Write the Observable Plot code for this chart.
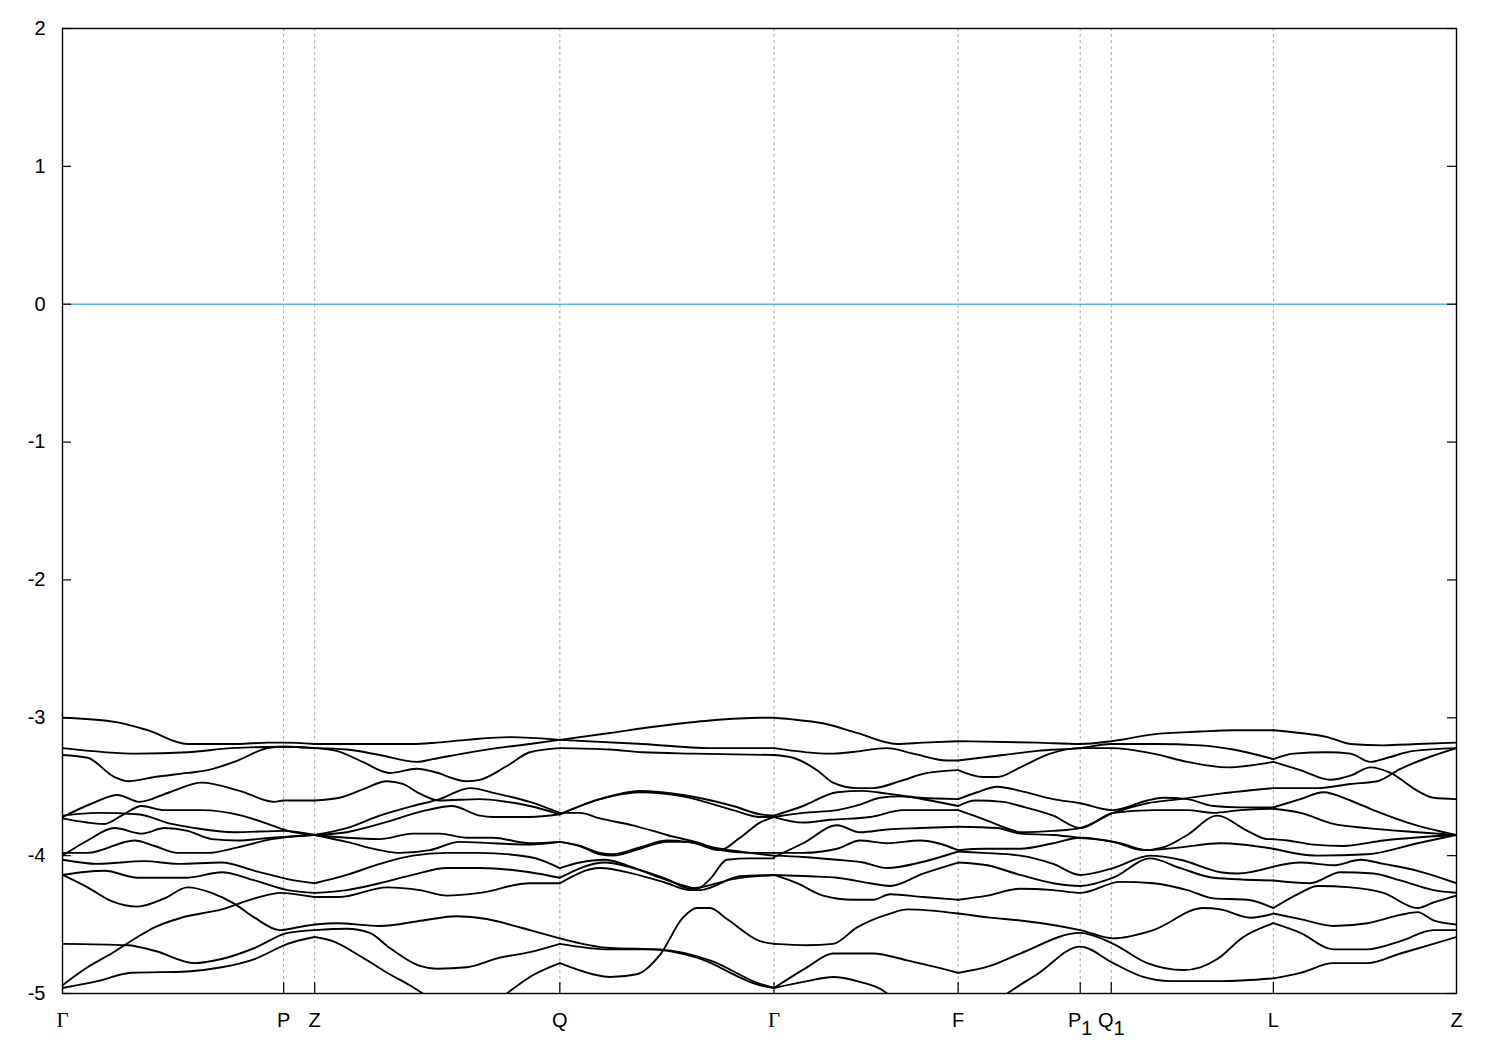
<!DOCTYPE html>
<html>
<head>
<meta charset="utf-8">
<script src="https://cdn.jsdelivr.net/npm/d3@7"></script>
<script src="https://cdn.jsdelivr.net/npm/@observablehq/plot@0.6"></script>
<style>
  html, body { margin: 0; padding: 0; background: white; }
  svg { display: block; }
</style>
</head>
<body>
<div id="chart"></div>
<script>
// High-symmetry points along the k-path (path distance, arbitrary units)
const kPoints = [0, 221, 252, 497, 711, 895, 1017, 1048, 1210, 1393];
const kLabels = ["Γ", "P", "Z", "Q", "Γ", "F", "P1", "Q1", "L", "Z"];
const yTicks = [-5, -4, -3, -2, -1, 0, 1, 2];
const fermiLevel = [0];

// Bands, per path segment, each line as [k, E (eV)]
const segGP = [
  [[0,-3.00],[52,-3.03],[85,-3.09],[125,-3.19],[145,-3.19],[175,-3.19],[205,-3.18],[221,-3.18],[252,-3.19]],
  [[0,-3.22],[75,-3.26],[125,-3.25],[169,-3.22],[221,-3.21],[252,-3.22]],
  [[0,-3.27],[25,-3.29],[52,-3.43],[65,-3.46],[92,-3.43],[125,-3.40],[145,-3.38],[175,-3.31],[205,-3.22],[221,-3.21],[252,-3.22]],
  [[0,-3.72],[30,-3.62],[55,-3.56],[77,-3.61],[107,-3.54],[139,-3.47],[177,-3.53],[212,-3.61],[221,-3.60],[252,-3.60]],
  [[0,-3.71],[35,-3.69],[75,-3.70],[109,-3.77],[132,-3.80],[172,-3.83],[221,-3.82],[252,-3.85]],
  [[0,-3.73],[42,-3.77],[59,-3.71],[79,-3.64],[102,-3.67],[139,-3.67],[179,-3.71],[209,-3.78],[225,-3.82],[252,-3.85]],
  [[0,-4.00],[25,-3.89],[52,-3.80],[79,-3.84],[102,-3.80],[125,-3.82],[149,-3.88],[175,-3.89],[209,-3.87],[252,-3.85]],
  [[0,-3.98],[25,-3.98],[72,-3.89],[92,-3.93],[115,-3.98],[145,-3.98],[175,-3.94],[209,-3.88],[252,-3.85]],
  [[0,-4.03],[35,-4.06],[82,-4.04],[115,-4.06],[159,-4.05],[192,-4.11],[225,-4.17],[252,-4.20]],
  [[0,-4.14],[42,-4.11],[75,-4.16],[125,-4.16],[159,-4.12],[192,-4.18],[225,-4.25],[252,-4.27]],
  [[0,-4.14],[25,-4.23],[49,-4.33],[75,-4.37],[102,-4.31],[125,-4.23],[149,-4.27],[172,-4.35],[192,-4.45],[217,-4.54],[242,-4.51],[252,-4.50]],
  [[0,-4.94],[25,-4.81],[49,-4.71],[75,-4.59],[92,-4.52],[119,-4.45],[159,-4.39],[192,-4.31],[219,-4.27],[242,-4.29],[252,-4.30]],
  [[0,-4.64],[65,-4.65],[92,-4.69],[132,-4.78],[159,-4.75],[192,-4.67],[225,-4.56],[252,-4.54]],
  [[0,-4.96],[35,-4.91],[69,-4.85],[125,-4.84],[159,-4.81],[192,-4.75],[225,-4.64],[252,-4.59]]
];

const segZQ = [
  [[252,-3.19],[317,-3.19],[350,-3.19],[374,-3.18],[404,-3.16],[447,-3.14],[497,-3.16]],
  [[252,-3.22],[284,-3.23],[317,-3.27],[354,-3.32],[370,-3.30],[400,-3.26],[434,-3.22],[467,-3.19],[497,-3.16]],
  [[252,-3.22],[274,-3.24],[300,-3.32],[327,-3.40],[354,-3.37],[370,-3.39],[404,-3.46],[417,-3.45],[444,-3.35],[467,-3.25],[497,-3.22]],
  [[252,-3.60],[277,-3.58],[300,-3.52],[324,-3.46],[340,-3.48],[357,-3.55],[377,-3.60],[417,-3.59],[444,-3.61],[467,-3.64],[497,-3.70]],
  [[252,-3.85],[284,-3.80],[317,-3.71],[350,-3.64],[377,-3.59],[407,-3.51],[434,-3.55],[467,-3.61],[497,-3.69]],
  [[252,-3.85],[284,-3.83],[317,-3.77],[364,-3.67],[389,-3.64],[417,-3.71],[430,-3.72],[467,-3.72],[497,-3.70]],
  [[252,-3.85],[284,-3.87],[317,-3.88],[350,-3.84],[377,-3.84],[404,-3.87],[430,-3.87],[467,-3.91],[497,-3.90]],
  [[252,-3.85],[284,-3.90],[317,-3.96],[337,-3.98],[367,-3.96],[397,-3.90],[430,-3.91],[467,-3.92],[497,-3.90]],
  [[252,-4.20],[284,-4.14],[317,-4.06],[350,-4.00],[384,-3.98],[417,-3.98],[467,-4.01],[497,-4.09]],
  [[252,-4.27],[284,-4.25],[317,-4.20],[350,-4.14],[384,-4.09],[417,-4.09],[467,-4.12],[497,-4.16]],
  [[252,-4.30],[277,-4.30],[324,-4.23],[357,-4.25],[384,-4.29],[417,-4.27],[467,-4.20],[497,-4.20]],
  [[252,-4.50],[274,-4.49],[317,-4.51],[360,-4.47],[394,-4.44],[424,-4.46],[447,-4.50],[467,-4.54],[497,-4.60]],
  [[252,-4.54],[284,-4.53],[307,-4.56],[327,-4.67],[357,-4.80],[374,-4.82],[404,-4.81],[437,-4.74],[467,-4.70],[497,-4.64]],
  [[252,-4.59],[270,-4.62],[300,-4.74],[327,-4.86],[347,-4.94],[362,-5.01],[377,-5.09]],
  [[427,-5.09],[444,-5.00],[467,-4.88],[497,-4.78]]
];

const segQG = [
  [[497,-3.16],[547,-3.11],[597,-3.06],[647,-3.02],[697,-3.00],[711,-3.00]],
  [[497,-3.16],[580,-3.19],[647,-3.22],[711,-3.22]],
  [[497,-3.22],[547,-3.23],[580,-3.25],[630,-3.26],[711,-3.27]],
  [[497,-3.70],[537,-3.59],[577,-3.53],[620,-3.56],[670,-3.64],[697,-3.70],[711,-3.71]],
  [[497,-3.70],[537,-3.59],[577,-3.54],[620,-3.57],[670,-3.67],[697,-3.72],[711,-3.72]],
  [[497,-3.69],[517,-3.69],[537,-3.73],[570,-3.78],[604,-3.85],[637,-3.91],[657,-3.96],[687,-3.98],[711,-3.98]],
  [[497,-3.90],[517,-3.93],[537,-3.98],[550,-3.99],[577,-3.94],[604,-3.89],[624,-3.90],[657,-3.95],[687,-3.98],[711,-4.00]],
  [[497,-3.90],[517,-3.93],[537,-3.99],[550,-4.00],[577,-3.95],[604,-3.90],[624,-3.90],[657,-3.96],[677,-3.87],[697,-3.76],[711,-3.72]],
  [[497,-4.09],[517,-4.05],[542,-4.03],[564,-4.07],[597,-4.16],[622,-4.22],[634,-4.24],[647,-4.17],[664,-4.03],[687,-4.02],[711,-4.02]],
  [[497,-4.16],[542,-4.05],[570,-4.09],[604,-4.17],[627,-4.24],[637,-4.23],[670,-4.17],[711,-4.14]],
  [[497,-4.20],[537,-4.09],[570,-4.13],[604,-4.20],[627,-4.25],[637,-4.25],[677,-4.15],[711,-4.14]],
  [[497,-4.60],[547,-4.67],[597,-4.68],[647,-4.76],[697,-4.93],[711,-4.96]],
  [[497,-4.64],[547,-4.68],[587,-4.68],[634,-4.74],[697,-4.94],[711,-4.96]],
  [[497,-4.78],[530,-4.86],[547,-4.88],[574,-4.86],[597,-4.72],[620,-4.45],[634,-4.38],[647,-4.38],[664,-4.46],[697,-4.62],[711,-4.64]]
];

const segGF = [
  [[711,-3.00],[727,-3.01],[760,-3.04],[794,-3.11],[834,-3.19],[860,-3.18],[895,-3.17]],
  [[711,-3.22],[767,-3.26],[787,-3.25],[824,-3.22],[850,-3.26],[884,-3.31],[895,-3.31]],
  [[711,-3.27],[730,-3.29],[754,-3.38],[770,-3.47],[794,-3.51],[810,-3.51],[837,-3.46],[864,-3.40],[895,-3.38]],
  [[711,-3.71],[740,-3.64],[774,-3.54],[800,-3.53],[824,-3.55],[857,-3.58],[895,-3.59]],
  [[711,-3.72],[740,-3.69],[774,-3.67],[797,-3.63],[817,-3.58],[837,-3.57],[867,-3.60],[895,-3.64]],
  [[711,-3.72],[740,-3.76],[767,-3.74],[807,-3.72],[840,-3.67],[867,-3.67],[895,-3.67]],
  [[711,-4.01],[740,-3.91],[774,-3.78],[797,-3.83],[824,-3.81],[857,-3.80],[895,-3.79]],
  [[711,-3.98],[740,-3.98],[774,-3.95],[797,-3.89],[824,-3.91],[857,-3.89],[895,-3.96]],
  [[711,-4.00],[740,-4.01],[774,-4.03],[800,-4.05],[824,-4.09],[857,-4.05],[895,-3.97]],
  [[711,-4.14],[747,-4.15],[774,-4.16],[807,-4.20],[827,-4.22],[860,-4.13],[895,-4.05]],
  [[711,-4.14],[734,-4.20],[760,-4.29],[790,-4.32],[810,-4.32],[827,-4.28],[860,-4.30],[895,-4.32]],
  [[711,-4.64],[744,-4.65],[770,-4.64],[794,-4.52],[827,-4.42],[844,-4.39],[895,-4.42]],
  [[711,-4.96],[744,-4.81],[770,-4.71],[810,-4.71],[844,-4.76],[895,-4.85]],
  [[711,-4.96],[744,-4.91],[770,-4.88],[794,-4.91],[824,-5.00],[837,-5.09]]
];

const segFL = [
  [[895,-3.17],[974,-3.18],[1017,-3.19],[1048,-3.17],[1090,-3.12],[1137,-3.10],[1170,-3.09],[1210,-3.09]],
  [[895,-3.31],[940,-3.27],[974,-3.24],[1017,-3.22],[1048,-3.19],[1090,-3.19],[1137,-3.20],[1170,-3.23],[1210,-3.30]],
  [[895,-3.38],[920,-3.43],[934,-3.43],[957,-3.36],[987,-3.26],[1017,-3.22],[1048,-3.22],[1090,-3.26],[1124,-3.32],[1164,-3.36],[1210,-3.32]],
  [[895,-3.59],[914,-3.54],[934,-3.50],[957,-3.53],[990,-3.59],[1017,-3.62],[1050,-3.67],[1084,-3.60],[1100,-3.58],[1124,-3.59],[1150,-3.64],[1177,-3.65],[1210,-3.65]],
  [[895,-3.64],[912,-3.60],[940,-3.61],[957,-3.64],[990,-3.71],[1017,-3.80],[1050,-3.69],[1090,-3.67],[1124,-3.67],[1150,-3.69],[1177,-3.67],[1210,-3.66]],
  [[895,-3.67],[922,-3.74],[947,-3.81],[957,-3.83],[990,-3.82],[1017,-3.80],[1050,-3.69],[1084,-3.62],[1117,-3.59],[1157,-3.55],[1210,-3.51]],
  [[895,-3.79],[934,-3.80],[957,-3.84],[990,-3.85],[1017,-3.87],[1050,-3.90],[1080,-3.96],[1100,-3.94],[1124,-3.85],[1154,-3.71],[1184,-3.82],[1204,-3.88],[1210,-3.88]],
  [[895,-3.96],[920,-3.95],[957,-3.95],[990,-3.91],[1017,-3.87],[1057,-3.91],[1084,-3.96],[1117,-3.94],[1157,-3.91],[1210,-3.95]],
  [[895,-3.97],[920,-3.98],[957,-4.00],[990,-4.06],[1017,-4.14],[1050,-4.09],[1087,-4.00],[1117,-4.03],[1157,-4.12],[1174,-4.13],[1210,-4.08]],
  [[895,-4.05],[924,-4.07],[957,-4.14],[990,-4.20],[1017,-4.22],[1050,-4.16],[1087,-4.02],[1117,-4.09],[1150,-4.16],[1210,-4.18]],
  [[895,-4.32],[924,-4.29],[957,-4.24],[990,-4.25],[1017,-4.27],[1057,-4.19],[1090,-4.20],[1124,-4.25],[1150,-4.31],[1184,-4.32],[1210,-4.38]],
  [[895,-4.42],[927,-4.45],[957,-4.47],[1017,-4.54],[1050,-4.60],[1090,-4.54],[1140,-4.38],[1157,-4.39],[1187,-4.45],[1210,-4.42]],
  [[895,-4.85],[927,-4.80],[957,-4.71],[1017,-4.56],[1050,-4.64],[1084,-4.78],[1120,-4.83],[1137,-4.81],[1154,-4.75],[1180,-4.59],[1210,-4.49]],
  [[927,-5.09],[944,-5.00],[974,-4.86],[1017,-4.66],[1050,-4.78],[1080,-4.88],[1107,-4.91],[1157,-4.91],[1210,-4.89]]
];

const segLZ = [
  [[1210,-3.09],[1237,-3.11],[1264,-3.14],[1287,-3.19],[1320,-3.20],[1354,-3.19],[1393,-3.18]],
  [[1210,-3.30],[1230,-3.26],[1264,-3.25],[1287,-3.26],[1307,-3.32],[1324,-3.29],[1350,-3.24],[1393,-3.22]],
  [[1210,-3.32],[1237,-3.38],[1267,-3.45],[1287,-3.42],[1307,-3.36],[1327,-3.40],[1354,-3.53],[1370,-3.58],[1393,-3.59]],
  [[1210,-3.51],[1254,-3.51],[1287,-3.48],[1314,-3.46],[1337,-3.37],[1364,-3.29],[1393,-3.22]],
  [[1210,-3.65],[1237,-3.59],[1260,-3.54],[1287,-3.60],[1310,-3.67],[1344,-3.76],[1393,-3.85]],
  [[1210,-3.66],[1237,-3.69],[1270,-3.77],[1304,-3.80],[1354,-3.83],[1393,-3.85]],
  [[1210,-3.88],[1224,-3.89],[1250,-3.92],[1280,-3.93],[1320,-3.89],[1393,-3.85]],
  [[1210,-3.95],[1254,-4.00],[1304,-3.99],[1354,-3.91],[1393,-3.85]],
  [[1210,-4.08],[1237,-4.05],[1270,-4.07],[1297,-4.03],[1320,-4.06],[1354,-4.11],[1393,-4.20]],
  [[1210,-4.18],[1247,-4.20],[1277,-4.12],[1310,-4.13],[1337,-4.18],[1370,-4.25],[1393,-4.27]],
  [[1210,-4.38],[1237,-4.27],[1254,-4.22],[1287,-4.23],[1320,-4.27],[1354,-4.38],[1370,-4.34],[1393,-4.29]],
  [[1210,-4.42],[1237,-4.46],[1270,-4.51],[1304,-4.49],[1337,-4.43],[1354,-4.41],[1370,-4.47],[1393,-4.50]],
  [[1210,-4.49],[1237,-4.56],[1270,-4.68],[1304,-4.68],[1337,-4.62],[1370,-4.54],[1393,-4.54]],
  [[1210,-4.89],[1237,-4.85],[1270,-4.78],[1304,-4.78],[1337,-4.71],[1370,-4.64],[1393,-4.59]]
];

// Build long-format table for Plot
const segments = {segGP, segZQ, segQG, segGF, segFL, segLZ};
const bandRows = [];
for (const [name, lines] of Object.entries(segments)) {
  lines.forEach((pts, i) => {
    for (const [k, E] of pts) bandRows.push({k, E, id: name + "-" + i});
  });
}

const W = 1500, H = 1050;
const mL = 62, mR = 44, mT = 28, mB = 57;
const kMin = kPoints[0], kMax = kPoints[kPoints.length - 1];
const yMin = yTicks[0], yMax = yTicks[yTicks.length - 1];
const kPerPx = (kMax - kMin) / (W - mL - mR);
const ePerPx = (yMax - yMin) / (H - mT - mB);
const tickPx = 9;

const labelIdx = kLabels.map((_, i) => i);

const chart = Plot.plot({
  width: W,
  height: H,
  marginLeft: mL,
  marginRight: mR,
  marginTop: mT,
  marginBottom: mB,
  style: {fontFamily: "'Liberation Sans', Arial, sans-serif", fontSize: "20px", background: "white", color: "black", overflow: "visible"},
  x: {domain: [kMin, kMax], axis: null},
  y: {domain: [yMin, yMax], axis: null},
  marks: [
    Plot.ruleX(kPoints.slice(1, -1), {stroke: "#9a9a9a", strokeWidth: 0.9, strokeDasharray: "3,3"}),
    Plot.ruleY(fermiLevel, {stroke: "#56b4e9", strokeWidth: 1.6}),
    Plot.line(bandRows, {x: "k", y: "E", z: "id", stroke: "black", strokeWidth: 1.9, curve: "monotone-x", clip: true}),
    // inward ticks
    Plot.ruleY(yTicks, {x1: kMin, x2: kMin + tickPx * kPerPx, stroke: "black", strokeWidth: 1.2}),
    Plot.ruleY(yTicks, {x1: kMax - tickPx * kPerPx, x2: kMax, stroke: "black", strokeWidth: 1.2}),
    Plot.ruleX(kPoints.slice(1, -1), {y1: yMin, y2: yMin + 11 * ePerPx, stroke: "black", strokeWidth: 1.2}),
    Plot.frame({stroke: "black", strokeWidth: 1.4}),
    // y tick labels
    Plot.text(yTicks, {x: kMin, y: d => d, text: d => String(d), textAnchor: "end", dx: -17, fontSize: 20, fill: "black"}),
    // k-point labels
    Plot.text(labelIdx.filter(i => kLabels[i] === "Γ"), {x: i => kPoints[i], y: yMin, text: i => kLabels[i], dy: 27, fontSize: 21, fontFamily: "'Liberation Serif', 'Times New Roman', serif", fill: "black"}),
    Plot.text(labelIdx.filter(i => kLabels[i] !== "Γ"), {x: i => kPoints[i], y: yMin, text: i => kLabels[i], dy: 27, fontSize: 20, fill: "black"})
  ]
});

// subscripts for P1 / Q1
d3.select(chart).selectAll("text").each(function() {
  const t = this.textContent;
  if (/^[A-Z]1$/.test(t)) {
    const s = d3.select(this);
    s.text(null);
    s.append("tspan").text(t.slice(0, -1));
    s.append("tspan").attr("dy", "0.38em").text("1");
  }
});

document.getElementById("chart").appendChild(chart);
</script>
</body>
</html>
